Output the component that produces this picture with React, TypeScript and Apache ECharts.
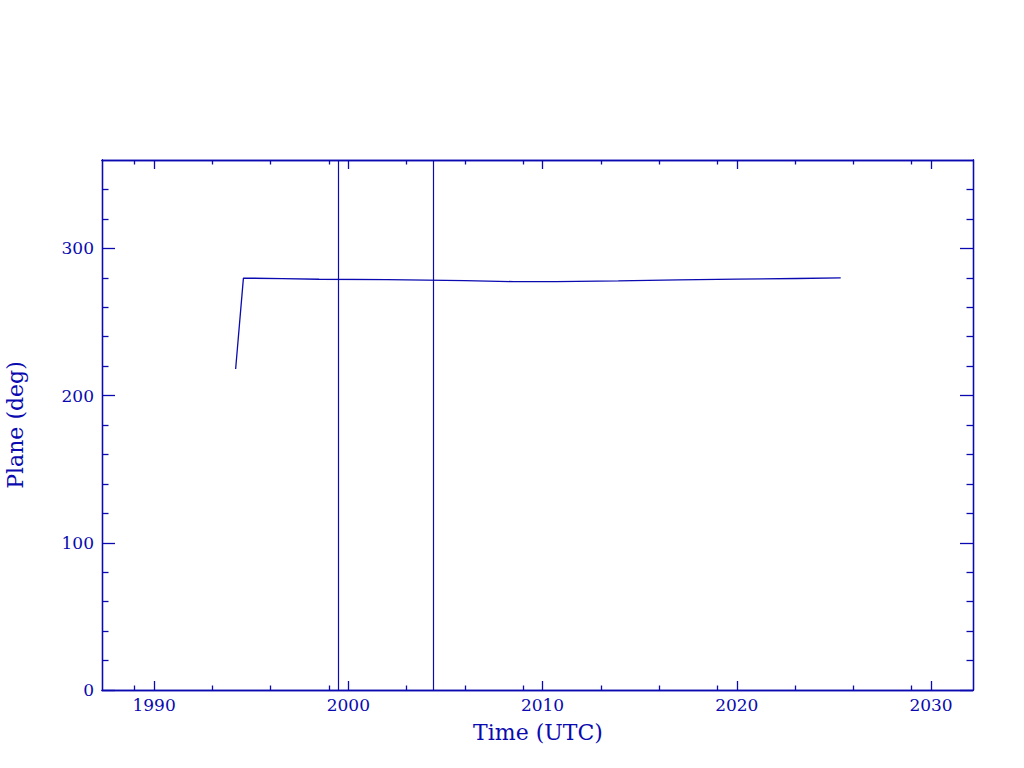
import React, { useEffect, useRef } from "react";
import * as echarts from "echarts";

const BLUE = "#0a0ab0";
const xMajorTicks = [1990, 2000, 2010, 2020, 2030];
const xMinorTicks = [1989, 1993, 1996, 1999, 2003, 2006, 2009, 2013, 2016, 2019, 2023, 2026, 2029];
const yMajorTicks = [0, 100, 200, 300];
const yMinorTicks = [20, 40, 60, 80, 120, 140, 160, 180, 220, 240, 260, 280, 320, 340];
const planeYears = [1994.2, 1994.6, 1996.6, 1998.5, 2002.0, 2006.0, 2008.5, 2010.7, 2013.9, 2017.0, 2020.0, 2023.1, 2025.35];
const planeDeg = [218.0, 279.8, 279.4, 279.0, 278.7, 278.0, 277.4, 277.4, 277.9, 278.6, 279.1, 279.5, 279.9];
const eventYears = [1999.47, 2004.36];

const X_MIN = 1987.32;
const X_MAX = 2032.16;
const FONT = "DejaVu Serif";

export default function App() {
  const ref = useRef<HTMLDivElement>(null);
  useEffect(() => {
    if (!ref.current) return;
    const chart = echarts.init(ref.current, null, { renderer: "svg" });
    const axisLine = { show: true, onZero: false, lineStyle: { color: BLUE, width: 1.3 } };
    const mkX = (pos: string, ticks: number[], len: number, labels: boolean) => ({
      type: "value",
      position: pos,
      min: X_MIN,
      max: X_MAX,
      axisLine,
      splitLine: { show: false },
      axisTick: { show: true, inside: true, length: len, customValues: ticks, lineStyle: { color: BLUE, width: 1.3 } },
      axisLabel: labels
        ? { show: true, customValues: ticks, color: BLUE, fontFamily: FONT, fontSize: 17, margin: 6, formatter: (v: number) => String(Math.round(v)) }
        : { show: false },
    });
    const mkY = (pos: string, ticks: number[], len: number, labels: boolean) => ({
      type: "value",
      position: pos,
      min: 0,
      max: 360,
      axisLine,
      splitLine: { show: false },
      axisTick: { show: true, inside: true, length: len, customValues: ticks, lineStyle: { color: BLUE, width: 1.3 } },
      axisLabel: labels
        ? { show: true, customValues: ticks, color: BLUE, fontFamily: FONT, fontSize: 17, margin: 8 }
        : { show: false },
    });
    chart.setOption({
      animation: false,
      backgroundColor: "#ffffff",
      grid: { left: 102, top: 160, right: 51, bottom: 78, containLabel: false },
      xAxis: [
        mkX("bottom", xMajorTicks, 9, true),
        mkX("bottom", xMinorTicks, 4.5, false),
        mkX("top", xMajorTicks, 9, false),
        mkX("top", xMinorTicks, 4.5, false),
      ],
      yAxis: [
        mkY("left", yMajorTicks, 13, true),
        mkY("left", yMinorTicks, 6.5, false),
        mkY("right", yMajorTicks, 13, false),
        mkY("right", yMinorTicks, 6.5, false),
      ],
      graphic: [
        {
          type: "text",
          x: 538,
          y: 732,
          style: { text: "Time (UTC)", fill: BLUE, font: `22px '${FONT}'`, textAlign: "center", textVerticalAlign: "middle" },
        },
        {
          type: "text",
          x: 15,
          y: 425,
          rotation: Math.PI / 2,
          style: { text: "Plane (deg)", fill: BLUE, font: `22px '${FONT}'`, textAlign: "center", textVerticalAlign: "middle" },
        },
      ],
      series: [
        {
          type: "line",
          xAxisIndex: 0,
          yAxisIndex: 0,
          data: planeYears.map((x, i) => [x, planeDeg[i]]),
          symbol: "none",
          lineStyle: { color: BLUE, width: 1.3 },
          markLine: {
            silent: true,
            symbol: "none",
            label: { show: false },
            lineStyle: { color: BLUE, width: 1.2, type: "solid" },
            data: eventYears.map((x) => ({ xAxis: x })),
          },
        },
      ],
    });
    return () => chart.dispose();
  }, []);
  return <div ref={ref} style={{ width: 1024, height: 768, position: "absolute", left: 0, top: 0 }} />;
}
